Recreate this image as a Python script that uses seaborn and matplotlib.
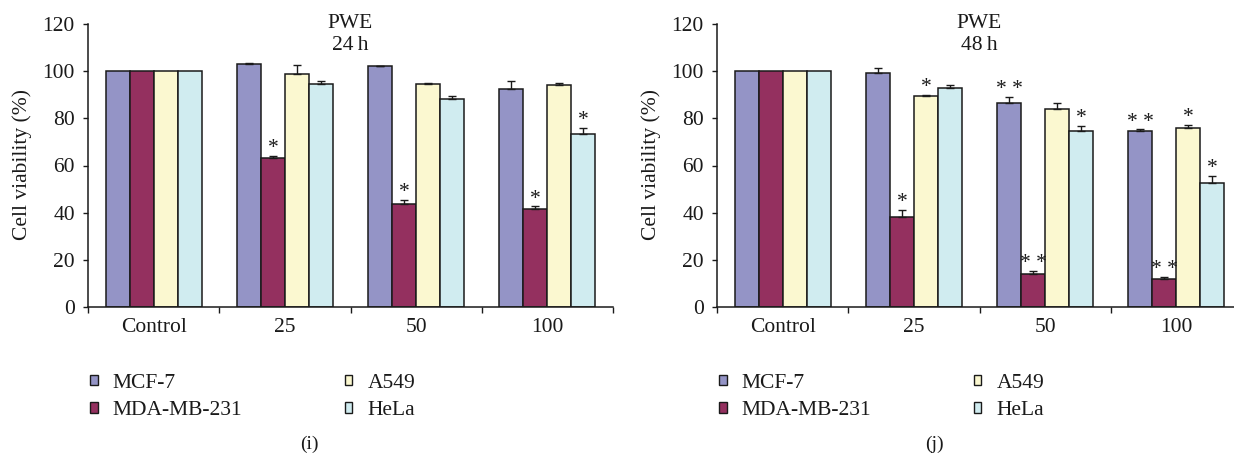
import matplotlib
matplotlib.use("Agg")
import matplotlib.pyplot as plt
from matplotlib.patches import Patch
import numpy as np
import pandas as pd
import seaborn as sns

# ---------------- data ----------------
conc = ["Control", "25", "50", "100"]
lines = ["MCF-7", "MDA-MB-231", "A549", "HeLa"]
colors = ["#9494C6", "#94305F", "#FBF8D0", "#D0ECF0"]

# 24 h
v24_mcf7 = [100, 102.9, 102.2, 92.5]
v24_mda = [100, 63.0, 43.7, 41.7]
v24_a549 = [100, 98.6, 94.4, 94.2]
v24_hela = [100, 94.7, 88.3, 73.2]
e24_mcf7 = [0, 0.7, 0.2, 3.2]
e24_mda = [0, 1.1, 1.6, 1.0]
e24_a549 = [0, 4.1, 0.7, 0.9]
e24_hela = [0, 1.1, 1.0, 2.6]
s24_mcf7 = ["", "", "", ""]
s24_mda = ["", "*", "*", "*"]
s24_a549 = ["", "", "", ""]
s24_hela = ["", "", "", "*"]

# 48 h
v48_mcf7 = [100, 99.2, 86.6, 74.6]
v48_mda = [100, 38.1, 14.0, 12.0]
v48_a549 = [100, 89.3, 84.1, 75.8]
v48_hela = [100, 93.0, 74.6, 52.6]
e48_mcf7 = [0, 2.1, 2.5, 0.7]
e48_mda = [0, 3.1, 1.3, 0.9]
e48_a549 = [0, 0.6, 2.6, 1.5]
e48_hela = [0, 1.1, 2.1, 3.0]
s48_mcf7 = ["", "", "* *", "* *"]
s48_mda = ["", "*", "* *", "* *"]
s48_a549 = ["", "*", "", "*"]
s48_hela = ["", "", "*", "*"]

y_ticks = [0, 20, 40, 60, 80, 100, 120]

panels = [
    dict(vals=[v24_mcf7, v24_mda, v24_a549, v24_hela],
         errs=[e24_mcf7, e24_mda, e24_a549, e24_hela],
         stars=[s24_mcf7, s24_mda, s24_a549, s24_hela],
         title2="24\u2009h", tag="(i)"),
    dict(vals=[v48_mcf7, v48_mda, v48_a549, v48_hela],
         errs=[e48_mcf7, e48_mda, e48_a549, e48_hela],
         stars=[s48_mcf7, s48_mda, s48_a549, s48_hela],
         title2="48\u2009h", tag="(j)"),
]

# ---------------- style ----------------
sns.set_style("ticks")
plt.rcParams["font.family"] = ["Liberation Serif", "DejaVu Serif"]
FS = 15.5
INK = "#1a1a1a"
plt.rcParams["axes.edgecolor"] = INK
plt.rcParams["xtick.color"] = INK
plt.rcParams["ytick.color"] = INK
plt.rcParams["text.color"] = INK

W, H = 1234, 455
fig = plt.figure(figsize=(W / 100, H / 100), dpi=100)

ax_left_px = [88, 717]
ax_w_px = 525
ax_top_px, ax_bot_px = 24, 307
legend_x_px = [90, 719]
tag_x_px = [309, 934]

for p, axx in enumerate(ax_left_px):
    P = panels[p]
    ax = fig.add_axes([axx / W, (H - ax_bot_px) / H, ax_w_px / W,
                       (ax_bot_px - ax_top_px) / H])
    rows = []
    for li, ln in enumerate(lines):
        for ci, c in enumerate(conc):
            rows.append(dict(conc=c, line=ln, value=P["vals"][li][ci]))
    df = pd.DataFrame(rows)
    sns.barplot(data=df, x="conc", y="value", hue="line", order=conc,
                hue_order=lines, palette=colors, saturation=1, width=0.733,
                gap=0, errorbar=None, edgecolor=INK, linewidth=1.1,
                legend=False, ax=ax, zorder=2)

    bar_conts = list(ax.containers)
    # error bars (upper only) and significance marks
    for li, cont in enumerate(bar_conts):
        for ci, bar in enumerate(cont.patches):
            xc = bar.get_x() + bar.get_width() / 2
            h = bar.get_height()
            e = P["errs"][li][ci]
            top = h
            if e > 0:
                ax.errorbar([xc], [h], yerr=[[0], [e]], fmt="none",
                            ecolor=INK, elinewidth=1.0, capsize=3,
                            capthick=1.0, zorder=3)
                top = h + e
            s = P["stars"][li][ci]
            if s:
                ax.annotate(s, (xc, top), xytext=(0, 2.0),
                            textcoords="offset points", ha="center",
                            va="baseline", fontsize=FS, zorder=4)

    ax.set_ylim(0, 120)
    ax.set_xlim(-0.5, 3.5)
    ax.set_yticks(y_ticks)
    ax.set_yticklabels([str(t) for t in y_ticks], fontsize=FS)
    ax.set_xticks(range(len(conc)))
    ax.set_xticklabels(conc, fontsize=FS)
    ax.set_xticks(np.arange(-0.5, len(conc), 1.0), minor=True)
    ax.tick_params(axis="x", which="major", length=0, pad=8)
    ax.tick_params(axis="x", which="minor", length=4, width=1.0,
                   direction="out")
    ax.tick_params(axis="y", length=3.5, width=1.0, direction="out", pad=6)
    ax.set_xlabel("")
    ax.set_ylabel("")
    for sp in ["top", "right"]:
        ax.spines[sp].set_visible(False)
    for sp in ["left", "bottom"]:
        ax.spines[sp].set_linewidth(1.1)

    cx = axx + ax_w_px / 2
    fig.text(cx / W, 1 - 24 / H, "PWE", ha="center", va="center",
             fontsize=FS)
    fig.text(cx / W, 1 - 45 / H, P["title2"], ha="center", va="center",
             fontsize=FS)
    fig.text((axx - 66) / W, 1 - 165 / H, "Cell viability (%)",
             rotation=90, ha="center", va="center", fontsize=FS)

    handles = [Patch(facecolor=col, edgecolor=INK, linewidth=1.0)
               for col in colors]
    fig.legend(handles, lines, loc="upper left",
               bbox_to_anchor=(legend_x_px[p] / W, 1 - 374 / H),
               ncol=2, frameon=False, fontsize=FS, handlelength=0.36,
               handleheight=0.36, handletextpad=0.7, columnspacing=4.75,
               labelspacing=0.38, borderpad=0, borderaxespad=0)
    fig.text(tag_x_px[p] / W, 1 - 444 / H, P["tag"], ha="center",
             va="center", fontsize=FS - 1.5)

fig.savefig("out.png", dpi=100)
